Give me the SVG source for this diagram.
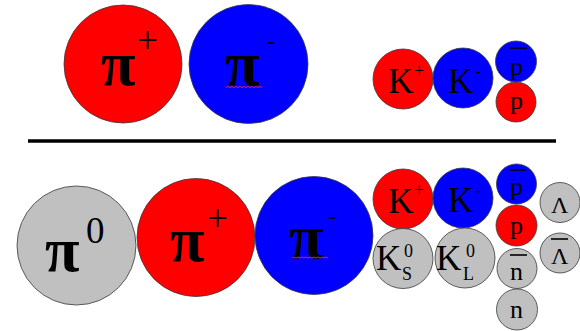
<svg xmlns="http://www.w3.org/2000/svg" width="580" height="331" viewBox="0 0 580 331">
<style>
.c{stroke:#3a3a3a;stroke-width:0.8}
.r{fill:#ff0000}
.b{fill:#0000ff}
.g{fill:#c0c0c0}
text{font-family:"Liberation Serif","Times New Roman",serif;fill:#000}
.pi{font-size:63px;font-weight:bold}
.sup{font-size:37px}
.dash{font-size:24px}
.k{font-size:35px}
.ks{font-size:18px}
.sm{font-size:26px}
.lam{font-size:24px}
.bar{stroke:#000;stroke-width:1.6}
.wave{fill:none;stroke:#e0204a;stroke-width:1}
</style>
<rect width="580" height="331" fill="#fff"/>
<g id="separator">
<line x1="28" y1="141" x2="556" y2="141" stroke="#000" stroke-width="3.5"/>
</g>
<g id="top-piplus">
<circle class="c r" cx="123" cy="64" r="59"/>
<text class="pi" x="101" y="85">π</text>
<text class="sup" x="137" y="53">+</text>
</g>
<g id="top-piminus">
<circle class="c b" cx="248.5" cy="64" r="59.5"/>
<text class="pi" x="225" y="85">π</text>
<text class="dash" x="267" y="49">-</text>
<path class="wave" d="M226,87.5 l2,-1 l2,1 l2,-1 l2,1 l2,-1 l2,1 l2,-1 l2,1 l2,-1 l2,1 l2,-1 l2,1 l2,-1 l2,1 l2,-1 l2,1 l2,-1 l2,1"/>
</g>
<g id="top-kplus">
<circle class="c r" cx="403" cy="79" r="30"/>
<text class="k" x="388" y="93">K</text>
<text class="ks" x="414" y="77">+</text>
</g>
<g id="top-kminus">
<circle class="c b" cx="463" cy="78" r="30"/>
<text class="k" x="448" y="93">K</text>
<text class="ks" x="475" y="77">-</text>
</g>
<g id="top-pbar">
<circle class="c b" cx="516" cy="61.5" r="20.5"/>
<text class="sm" x="510" y="75">p</text>
<line class="bar" x1="509" y1="48" x2="527" y2="48"/>
</g>
<g id="top-p">
<circle class="c r" cx="516" cy="102" r="20"/>
<text class="sm" x="510" y="109">p</text>
</g>
<g id="bot-pizero">
<circle class="c g" cx="76.5" cy="245.5" r="59.5"/>
<text class="pi" x="45" y="271">π</text>
<text class="sup" x="86" y="243">0</text>
</g>
<g id="bot-piplus">
<circle class="c r" cx="196" cy="237.5" r="59"/>
<text class="pi" x="170" y="261">π</text>
<text class="sup" x="207" y="231">+</text>
</g>
<g id="bot-piminus">
<circle class="c b" cx="314" cy="235.5" r="59"/>
<text class="pi" x="289" y="258">π</text>
<text class="dash" x="328" y="224">-</text>
<path class="wave" d="M292,258 l2,-1 l2,1 l2,-1 l2,1 l2,-1 l2,1 l2,-1 l2,1 l2,-1 l2,1 l2,-1 l2,1 l2,-1 l2,1 l2,-1 l2,1 l2,-1 l2,1"/>
</g>
<g id="bot-kplus">
<circle class="c r" cx="403" cy="199" r="30"/>
<text class="k" x="388" y="213">K</text>
<text class="ks" x="414" y="196">+</text>
</g>
<g id="bot-kminus">
<circle class="c b" cx="463" cy="198" r="30"/>
<text class="k" x="448" y="212">K</text>
<text class="ks" x="475" y="196">-</text>
</g>
<g id="bot-kshort">
<circle class="c g" cx="403" cy="258.5" r="30"/>
<text class="k" x="376" y="270">K</text>
<text class="ks" x="404" y="257">0</text>
<text class="ks" x="402" y="280">S</text>
</g>
<g id="bot-klong">
<circle class="c g" cx="465" cy="258" r="30"/>
<text class="k" x="436" y="270">K</text>
<text class="ks" x="466" y="257">0</text>
<text class="ks" x="463" y="280">L</text>
</g>
<g id="bot-pbar">
<circle class="c b" cx="516.5" cy="184" r="20"/>
<text class="sm" x="510" y="195">p</text>
<line class="bar" x1="510" y1="170" x2="526" y2="170"/>
</g>
<g id="bot-p">
<circle class="c r" cx="516.5" cy="225.5" r="20.5"/>
<text class="sm" x="510" y="234">p</text>
</g>
<g id="bot-nbar">
<circle class="c g" cx="517" cy="268.5" r="20"/>
<text class="sm" x="510" y="280">n</text>
<line class="bar" x1="510" y1="255" x2="527" y2="255"/>
</g>
<g id="bot-n">
<circle class="c g" cx="517" cy="309.5" r="20.5"/>
<text class="sm" x="510" y="318">n</text>
</g>
<g id="bot-lambda">
<circle class="c g" cx="560" cy="202.5" r="20"/>
<text class="lam" x="551" y="213">Λ</text>
</g>
<g id="bot-lambdabar">
<circle class="c g" cx="560" cy="253" r="20"/>
<text class="lam" x="551" y="264">Λ</text>
<line class="bar" x1="551" y1="239" x2="568" y2="239"/>
</g>
</svg>
